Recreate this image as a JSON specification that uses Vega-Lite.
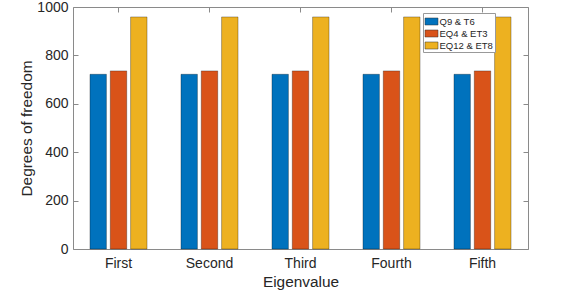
{
  "$schema": "https://vega.github.io/schema/vega-lite/v6.json",
  "width": 455,
  "height": 242,
  "autosize": {"type": "none"},
  "padding": {"left": 73, "top": 7, "right": 53, "bottom": 43},
  "background": "white",
  "config": {
    "view": {"stroke": null},
    "font": "Liberation Sans",
    "axis": {
      "domainColor": "#8a8a8a",
      "domainWidth": 1,
      "tickColor": "#8a8a8a",
      "tickWidth": 1,
      "tickSize": -5,
      "labelColor": "#262626",
      "titleColor": "#262626",
      "labelFont": "Liberation Sans",
      "titleFont": "Liberation Sans",
      "labelFontSize": 14,
      "titleFontSize": 15.4,
      "titleFontWeight": "normal",
      "grid": false
    }
  },
  "data": {
    "values": [
      {"eig": "First", "series": "Q9 & T6", "dof": 722},
      {"eig": "First", "series": "EQ4 & ET3", "dof": 736},
      {"eig": "First", "series": "EQ12 & ET8", "dof": 959},
      {"eig": "Second", "series": "Q9 & T6", "dof": 722},
      {"eig": "Second", "series": "EQ4 & ET3", "dof": 736},
      {"eig": "Second", "series": "EQ12 & ET8", "dof": 959},
      {"eig": "Third", "series": "Q9 & T6", "dof": 722},
      {"eig": "Third", "series": "EQ4 & ET3", "dof": 736},
      {"eig": "Third", "series": "EQ12 & ET8", "dof": 959},
      {"eig": "Fourth", "series": "Q9 & T6", "dof": 722},
      {"eig": "Fourth", "series": "EQ4 & ET3", "dof": 736},
      {"eig": "Fourth", "series": "EQ12 & ET8", "dof": 959},
      {"eig": "Fifth", "series": "Q9 & T6", "dof": 722},
      {"eig": "Fifth", "series": "EQ4 & ET3", "dof": 736},
      {"eig": "Fifth", "series": "EQ12 & ET8", "dof": 959}
    ]
  },
  "layer": [
    {
      "mark": {"type": "bar", "stroke": "#000", "strokeWidth": 0.5, "strokeOpacity": 0.6},
      "encoding": {
        "x": {
          "field": "eig", "type": "nominal",
          "sort": ["First", "Second", "Third", "Fourth", "Fifth"],
          "scale": {"paddingInner": 0, "paddingOuter": 0},
          "axis": {"orient": "bottom", "title": "Eigenvalue", "labelAngle": 0, "labelPadding": 12, "titlePadding": 4}
        },
        "xOffset": {
          "field": "series", "type": "nominal",
          "sort": ["Q9 & T6", "EQ4 & ET3", "EQ12 & ET8"],
          "scale": {"paddingInner": 0.19, "paddingOuter": 0.836}
        },
        "y": {
          "field": "dof", "type": "quantitative",
          "scale": {"domain": [0, 1000], "nice": false},
          "axis": {"orient": "left", "title": "Degrees of freedom", "format": "d", "values": [0, 200, 400, 600, 800, 1000], "labelPadding": 10, "titlePadding": 2}
        },
        "color": {
          "field": "series", "type": "nominal",
          "sort": ["Q9 & T6", "EQ4 & ET3", "EQ12 & ET8"],
          "scale": {"range": ["#0072BD", "#D95319", "#EDB120"]},
          "legend": {
            "title": null,
            "orient": "none",
            "legendX": 350,
            "legendY": 6,
            "fillColor": "white",
            "strokeColor": "#999",
            "padding": 1.5,
            "labelFont": "Liberation Sans",
            "labelFontSize": 9.5,
            "labelColor": "#262626",
            "labelOffset": 1,
            "rowPadding": -1,
            "symbolType": "M-1,-0.54H1V0.54H-1Z",
            "symbolSize": 169,
            "symbolStrokeColor": "#333",
            "symbolStrokeWidth": 0.5
          }
        }
      }
    },
    {
      "mark": {"type": "bar", "opacity": 0},
      "encoding": {
        "x": {
          "field": "eig", "type": "nominal",
          "sort": ["First", "Second", "Third", "Fourth", "Fifth"],
          "axis": {"orient": "top", "title": null, "labels": false}
        },
        "xOffset": {
          "field": "series", "type": "nominal",
          "sort": ["Q9 & T6", "EQ4 & ET3", "EQ12 & ET8"]
        },
        "y": {
          "field": "dof", "type": "quantitative",
          "axis": {"orient": "right", "title": null, "labels": false, "values": [0, 200, 400, 600, 800, 1000]}
        }
      }
    }
  ],
  "resolve": {"axis": {"x": "independent", "y": "independent"}}
}
